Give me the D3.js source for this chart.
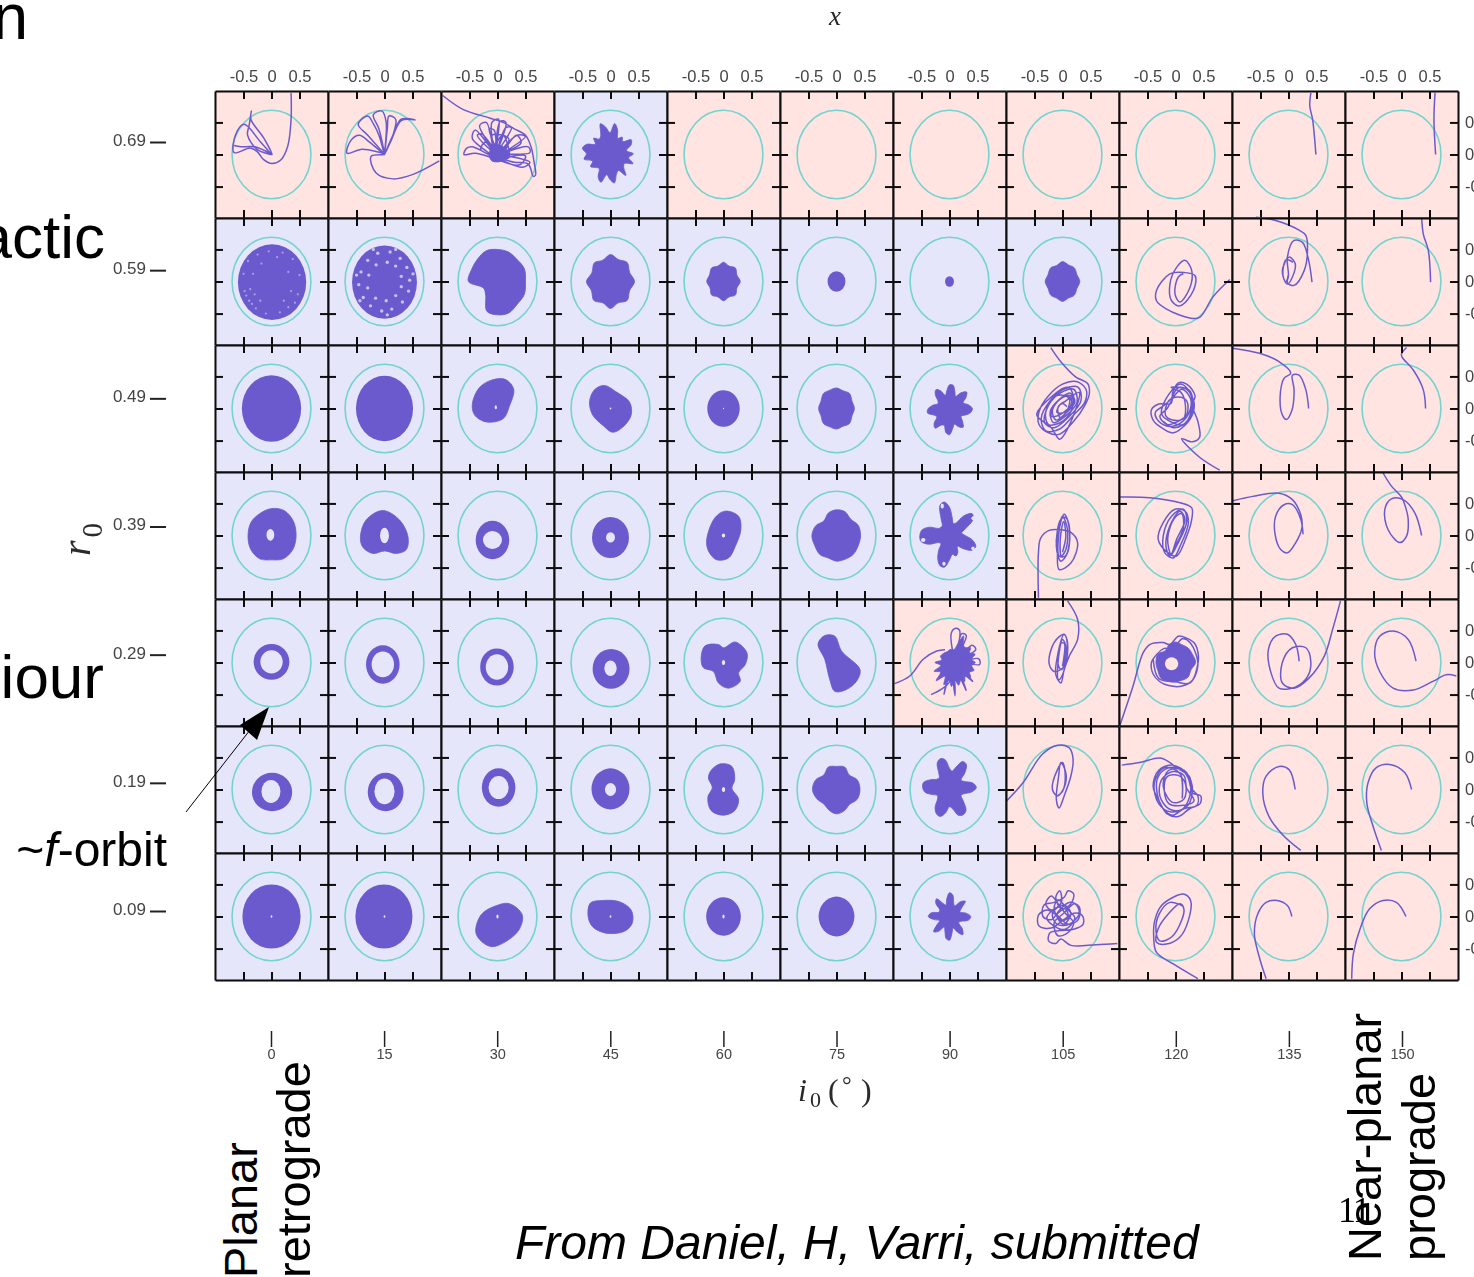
<!DOCTYPE html>
<html>
<head>
<meta charset="utf-8">
<script src="https://cdn.jsdelivr.net/npm/d3@7"></script>
<style>
body { margin: 0; background: #fff; overflow: hidden; }
svg { display: block; font-family: "Liberation Sans", sans-serif; }
.slide { fill: #000; font-size: 47px; }
.math { font-family: "Liberation Serif", serif; fill: #2a2a2a; }
</style>
</head>
<body>
<svg id="chart" width="1474" height="1277"></svg>
<script>
// initial inclination (deg) and radius, top row first
var inclinations = [0, 15, 30, 45, 60, 75, 90, 105, 120, 135, 150];
var radii = [0.69, 0.59, 0.49, 0.39, 0.29, 0.19, 0.09];
var cellTicks = [-0.5, 0, 0.5];
var boundary = [0.705, 0.69];

// 1 = lost orbit (pink panel), 0 = confined (lavender panel)
var lost069 = [1, 1, 1, 0, 1, 1, 1, 1, 1, 1, 1];
var lost059 = [0, 0, 0, 0, 0, 0, 0, 0, 1, 1, 1];
var lost049 = [0, 0, 0, 0, 0, 0, 0, 1, 1, 1, 1];
var lost039 = [0, 0, 0, 0, 0, 0, 0, 1, 1, 1, 1];
var lost029 = [0, 0, 0, 0, 0, 0, 1, 1, 1, 1, 1];
var lost019 = [0, 0, 0, 0, 0, 0, 0, 1, 1, 1, 1];
var lost009 = [0, 0, 0, 0, 0, 0, 0, 1, 1, 1, 1];

// filled orbit regions: e = ellipse [x, y, rx, ry], c + r = radii read round a centre, pts = outline
var blobs069 = [
  {col: 2, pts: [[-.15, .02], [-.05, .15], [.1, .12], [.22, -.02], [.1, -.1], [-.1, -.1]]},
  {col: 3, c: [-0.01, 0.01], r: [.42, .3, .4, .44, .3, .34, .28, .4, .48, .33, .42, .5, .33, .3, .38, .3, .44, .5, .42, .47, .33, .4, .33, .3, .42, .47, .33, .4, .46, .34, .3, .44, .32, .3, .44, .34]}
];
var blobs059 = [
  {col: 0, e: [0.01, -0.01, 0.61, 0.59]},
  {col: 1, e: [0, -0.01, 0.58, 0.57]},
  {col: 2, c: [0, 0], r: [.5, .52, .49, .5, .5, .52, .5, .5, .52, .27, .3, .5, .52, .53, .5, .52]},
  {col: 3, c: [0, 0], r: [.43, .37, .42, .37, .42, .36, .41, .36, .43, .37, .42, .36, .42, .36, .42, .37]},
  {col: 4, c: [0, 0], r: [.3, .26, .3, .26, .3, .26, .3, .27, .3, .26, .3, .26, .3, .26, .3, .26]},
  {col: 5, e: [0, 0, 0.16, 0.16]},
  {col: 6, e: [0, 0, 0.08, 0.08]},
  {col: 7, c: [0, 0], r: [.31, .28, .3, .28, .31, .27, .3, .28, .31, .28, .3, .28, .31, .28, .3, .28]}
];
var blobs049 = [
  {col: 0, e: [0, 0, 0.53, 0.52]},
  {col: 1, e: [0, 0, 0.51, 0.51]},
  {col: 2, pts: [[-.45, .07], [-.32, .33], [-.08, .45], [.15, .45], [.29, .3], [.21, .03], [.1, -.16], [-.2, -.21], [-.41, -.1]], holes: [[-.03, .02, .02, .03]]},
  {col: 3, pts: [[-.375, .1], [-.29, .29], [-.11, .36], [.1, .26], [.34, .1], [.37, -.1], [.22, -.29], [.04, -.37], [-.14, -.26], [-.32, -.1]], holes: [[0, 0, .015, .015]]},
  {col: 4, e: [0, 0, 0.29, 0.285], holes: [[0, 0, .01, .01]]},
  {col: 5, c: [0, 0], r: [.32, .3, .33, .3, .32, .31, .33, .3, .32, .3, .33, .31, .32, .3, .33, .3]},
  {col: 6, c: [0, 0], r: [.41, .34, .26, .34, .4, .32, .22, .28, .37, .37, .28, .22, .32, .38, .33, .24, .22, .3, .38, .4, .3, .26, .36, .4, .3, .28, .38, .41, .32, .26, .33, .38, .3, .24, .3, .38]}
];
var blobs039 = [
  {col: 0, c: [0, 0], r: [.44, .45, .45, .42, .4, .42, .42, .43, .42, .38, .42, .44], holes: [[-.02, .01, .07, .09]]},
  {col: 1, pts: [[-.43, -.02], [-.33, .24], [-.03, .39], [.27, .24], [.42, -.02], [.39, -.22], [.21, -.28], [0, -.24], [-.21, -.28], [-.39, -.18]], holes: [[0, 0, .08, .12]]},
  {col: 2, e: [-0.09, -0.07, 0.3, 0.3], holes: [[-.09, -.07, .17, .14]]},
  {col: 3, e: [0, -0.03, 0.33, 0.32], holes: [[0, -.03, .08, .08]]},
  {col: 4, pts: [[-.3, -.06], [-.15, .28], [.03, .38], [.27, .3], [.31, .09], [.21, -.17], [.09, -.35], [-.12, -.38], [-.27, -.24]], holes: [[0, 0, .03, .03]]},
  {col: 5, c: [0, 0], r: [.43, .42, .36, .4, .4, .38, .32, .4, .44, .42, .42, .38, .4, .4, .42, .42]},
  {col: 6, c: [0, 0], r: [.28, .22, .3, .48, .53, .4, .22, .2, .28, .44, .53, .5, .3, .2, .2, .22, .38, .5, .53, .52, .4, .22, .2, .3, .42, .5, .5, .38, .3, .34, .3, .22, .32, .46, .5, .42],
    holes: [[-.13, .46, .03, .04], [.43, .27, .04, .03], [-.47, -.07, .04, .03], [.42, -.2, .03, .03], [-.1, -.44, .03, .03]]}
];
var blobs029 = [
  {col: 0, e: [0, 0.01, 0.32, 0.28], holes: [[0, .01, .2, .18]]},
  {col: 1, e: [-0.03, -0.03, 0.3, 0.3], holes: [[-.03, -.03, .2, .2]]},
  {col: 2, e: [-0.01, -0.07, 0.3, 0.29], holes: [[-.01, -.07, .2, .2]]},
  {col: 3, e: [0.01, -0.1, 0.33, 0.31], holes: [[0, -.09, .11, .12]]},
  {col: 4, pts: [[-.4, .07], [-.33, .26], [-.09, .28], [0, .23], [.21, .32], [.42, .15], [.39, -.03], [.27, -.16], [.3, -.29], [.09, -.4], [-.09, -.32], [-.18, -.14], [-.36, -.08]], holes: [[0, 0, .03, .04]]},
  {col: 5, pts: [[-.33, .29], [-.21, .42], [-.03, .41], [.09, .18], [.42, -.11], [.36, -.29], [.18, -.42], [-.03, -.45], [-.12, -.27], [-.21, .05]]},
  {col: 6, c: [0.1, 0], r: [.36, .3, .38, .3, .36, .3, .3, .44, .3, .22, .2, .22, .22, .22, .24, .26, .28, .24, .36, .26, .4, .3, .44, .28, .4, .3, .38, .28, .36, .3, .34, .28, .36, .3, .36, .3]},
  {col: 8, c: [0, 0], r: [.36, .33, .32, .3, .32, .3, .26, .34, .35, .34, .36, .32, .3, .3, .32, .3]  , holes: [[-.07, -.02, .12, .1]]}
];
var blobs019 = [
  {col: 0, e: [0.01, -0.04, 0.36, 0.3], holes: [[-.01, -.03, .17, .18]]},
  {col: 1, e: [0.02, -0.04, 0.32, 0.3], holes: [[0, -.03, .18, .2]]},
  {col: 2, e: [0.02, 0.03, 0.3, 0.3], holes: [[.02, .03, .18, .18]]},
  {col: 3, e: [0, 0.01, 0.34, 0.32], holes: [[0, 0, .1, .1]]},
  {col: 4, pts: [[-.22, .3], [-.05, .4], [.15, .36], [.2, .15], [.15, .02], [.27, -.15], [.2, -.33], [0, -.4], [-.22, -.33], [-.28, -.12], [-.2, .03], [-.27, .18]], holes: [[0, 0, .03, .04]]},
  {col: 5, c: [0, 0], r: [.42, .4, .32, .38, .36, .38, .32, .4, .43, .38, .32, .35, .38, .36, .33, .4]},
  {col: 6, c: [0, 0.03], r: [.48, .42, .28, .24, .36, .47, .47, .34, .26, .3, .44, .48, .44, .3, .24, .26, .36, .47, .48, .44, .32, .25, .28, .4, .47, .48, .4, .3, .34, .46, .49, .46, .32, .24, .28, .4]}
];
var blobs009 = [
  {col: 0, e: [0, 0, 0.52, 0.5], holes: [[0, 0, .015, .02]]},
  {col: 1, e: [-0.01, 0, 0.51, 0.5], holes: [[0, 0, .015, .02]]},
  {col: 2, pts: [[-.39, -.23], [-.29, .03], [-.05, .16], [.21, .2], [.44, .03], [.39, -.2], [.15, -.39], [-.11, -.47], [-.32, -.36]], holes: [[0, 0, .02, .03]]},
  {col: 3, pts: [[-.4, 0], [-.36, .21], [-.14, .25], [.16, .23], [.37, .1], [.39, -.1], [.25, -.23], [-.08, -.26], [-.32, -.16]], holes: [[0, 0, .015, .02]]},
  {col: 4, e: [0, 0, 0.31, 0.3], holes: [[0, 0, .02, .03]]},
  {col: 5, e: [0, 0, 0.32, 0.31]},
  {col: 6, c: [0, 0], r: [.38, .3, .2, .24, .37, .3, .19, .22, .34, .37, .28, .19, .24, .36, .32, .2, .2, .33, .38, .28, .19, .26, .37, .3, .19, .24, .35, .37, .26, .19, .28, .37, .3, .19, .22, .34]}
];

// light gaps in the two dense panels of the 0.59 row
var gaps059col0 = [[.5, .1], [.47, -.2], [.42, -.33], [.3, -.4], [.15, -.48], [-.1, -.5], [-.28, -.42], [-.4, -.3], [-.48, -.15], [-.5, .12], [-.42, .32], [-.25, .42], [-.05, .47], [.2, .45], [.38, .35], [.3, .15], [-.3, -.2], [-.35, -.35], [-.2, -.3], [.22, -.3], [.1, .38], [-.18, .28], [-.33, .12], [.35, -.15], [-.45, -.22], [-.38, -.12]];
var gaps059col1 = [[.45, .02], [.4, .22], [.28, .36], [.1, .46], [-.12, .44], [-.3, .33], [-.42, .15], [-.46, -.05], [-.38, -.25], [-.25, -.38], [-.05, -.46], [.13, -.43], [.32, -.32], [.43, -.15], [.3, .08], [.2, .24], [.05, .3], [-.15, .26], [-.28, .1], [-.3, -.1], [-.16, -.26], [.03, -.3], [.2, -.22], [.3, -.08], [.51, .12], [.2, .5], [-.2, .5], [-.5, .1], [-.44, -.3], [.05, -.52]];

// orbit tracks, in panel x / y units
var tracks069 = [
  {col: 0, pts: [[.35, .96], [.35, .55], [.29, .13], [.16, -.09], [.01, -.14], [-.14, -.08], [-.26, .05], [-.38, .1], [-.67, .03], [-.64, .31], [-.49, .47], [-.2, .2], [.01, 0], [-.14, .26], [-.37, .55], [-.36, .68], [-.4, .45], [-.43, .31], [-.26, .08], [.01, 0], [-.3, .12], [-.55, .12], [-.67, .14]]},
  {col: 1, pts: [[.98, -.1], [.51, -.31], [.15, -.38], [-.15, -.29], [-.24, -.03], [0, 0], [-.4, .08], [-.67, .02], [-.6, .22], [-.45, .3], [-.25, .18], [0, 0], [-.3, .3], [-.47, .47], [-.3, .6], [-.2, .48], [-.1, .3], [0, 0], [-.1, .4], [-.2, .62], [-.05, .68], [.03, .5], [0, 0], [.05, .4], [.08, .6], [.2, .55], [.15, .3], [0, 0], [.15, .3], [.3, .55], [.55, .54], [.3, .53], [.12, .22], [0, 0]]},
  {col: 2, pts: [[-.98, .92], [-.61, .7], [-.14, .57], [.1, .5], [.3, .4], [.5, .3], [.6, .12], [.65, -.1], [.68, -.32], [.64, -.34], [.55, -.15], [.3, -.12], [0, -.05], [.45, -.2], [.58, -.12], [.35, -.05], [0, 0], [.58, .03], [.55, .12], [.2, .05], [-.02, -.05], [.5, .28], [.35, .3], [0, .02], [.25, .42], [.15, .42], [-.02, .02], [.15, .5], [.05, .52], [-.05, 0], [.02, .55], [-.1, .5], [-.05, -.05], [-.2, .5], [-.32, .45], [-.05, .02], [-.4, .38], [-.45, .25], [-.08, -.03], [-.45, .12], [-.55, .1], [-.6, 0], [-.4, .02], [-.05, -.06], [.05, -.08], [-.2, .2], [-.3, .08], [.2, -.05], [.1, .3], [0, .2], [.02, -.08], [.2, .25], [-.1, .3], [.05, -.05], [-.28, .32], [-.36, .3], [0, 0], [-.15, .4], [-.06, .38], [.02, 0], [.34, .3], [.42, .18], [0, -.04], [.5, -.02], [.4, -.16], [0, -.08]]},
  {col: 9, pts: [[.4, .96], [.38, .76], [.43, .55], [.49, 0]]},
  {col: 10, pts: [[.6, .96], [.58, .55], [.61, 0]]}
];
var tracks059 = [
  {col: 8, pts: [[.97, .03], [.67, -.24], [.43, -.56], [.26, -.57], [-.16, -.43], [-.34, -.3], [-.34, -.14], [-.1, .12], [.15, .14], [.35, .09], [.32, -.14], [.08, -.38], [-.07, -.3], [-.1, -.04], [.02, .22], [.17, .33], [.29, .17], [.26, -.09], [.08, -.32], [-.01, -.19], [.05, .07], [.14, .12]]},
  {col: 9, pts: [[.42, -.01], [.36, .33], [.25, .61], [.1, .64], [-.02, .38], [.0, .1], [-.02, -.02], [.1, -.06], [.28, .17], [.34, .48], [.31, .72], [.19, .8], [-.23, .95], [-.58, 1]]},
  {col: 9, pts: [[.0, .1], [-.05, -.01], [-.11, .17], [.01, .38], [.12, .28], [.07, .07], [-.02, -.04], [-.1, .1], [-.04, .34], [.08, .3]]},
  {col: 10, pts: [[.36, 1], [.39, .74], [.48, .48], [.52, -.01]]}
];
var tracks049 = [
  {col: 7, pts: [[-.21, .95], [-.03, .73], [.24, .49], [.45, .39], [.48, .23], [.4, .05], [.2, -.2], [-.05, -.4], [-.25, -.38], [-.42, -.25], [-.42, -.05], [-.25, .2], [0, .38], [.25, .42], [.42, .3], [.4, .1], [.2, -.1], [-.05, -.32], [-.3, -.35], [-.38, -.15], [-.22, .12], [.02, .3], [.28, .33], [.33, .12], [.1, -.14], [-.15, -.3], [-.32, -.22], [-.25, .05], [-.02, .25], [.2, .3], [.26, .1], [.05, -.12], [-.16, -.22], [-.22, -.05], [-.06, .14], [.14, .24], [.22, .1], [.05, -.08], [-.12, -.18], [-.18, -.02], [-.02, .16], [.16, .2], [.14, .03], [-.04, -.14], [-.08, .02], [.06, .12], [.3, .25], [.1, -.3], [-.05, -.48], [-.2, -.3], [-.46, -.1], [-.3, .1], [.1, .33], [.2, .12], [-.05, -.1], [-.2, -.12], [-.12, .08], [.1, .2], [.18, .02], [0, -.2], [-.25, -.25], [-.3, -.05], [-.1, .2], [.12, .16], [.06, -.05], [-.1, -.06], [-.02, .08], [.08, .03]]},
  {col: 8, pts: [[.79, -.96], [.43, -.76], [.11, -.47], [.3, -.52], [.43, -.45], [.4, -.2], [.3, .05], [.35, .2], [.2, .38], [.05, .4], [-.05, .25], [-.08, .08], [-.3, .07], [-.43, -.02], [-.4, -.18], [-.25, -.3], [-.05, -.38], [.12, -.3], [.3, -.1], [.33, .1], [.2, .3], [.04, .32], [-.08, .15], [-.2, .05], [-.36, -.06], [-.3, -.2], [-.1, -.28], [.1, -.22], [.25, -.05], [.27, .15], [.12, .3], [-.02, .2], [-.15, 0], [-.28, -.12], [-.15, -.25], [.05, -.2], [.2, -.1], [.2, .12], [.05, .18], [-.12, .12], [-.18, -.1], [-.05, -.18], [.14, -.16], [.18, .02], [.1, .25], [-.08, .33], [.25, .28], [.3, -.02], [.15, -.25], [-.1, -.2], [-.25, -.08], [-.12, .22], [.1, .38], [.28, .2], [.22, -.18], [-.02, -.3], [-.22, -.2]]},
  {col: 9, pts: [[-1, .94], [-.52, .86], [-.17, .73], [.04, .55], [-.08, .47], [-.15, .18], [-.11, -.1], [-.04, -.17], [.06, -.03], [.1, .29], [.07, .52], [.19, .52], [.31, .29], [.36, 0]]},
  {col: 10, pts: [[.09, .95], [0, .85], [.01, .8], [.21, .6], [.39, .29], [.43, 0]]}
];
var tracks039 = [
  {col: 7, pts: [[-.43, -.97], [-.43, -.27], [-.39, -.04], [-.24, .08], [-.03, .09], [.15, .05], [.27, -.11], [.15, -.43], [-.06, -.53], [-.09, -.27], [-.06, .09], [.03, .33], [.12, .15], [.09, -.27], [-.03, -.4], [-.11, -.17], [-.03, .25], [.06, .28], [.13, -.01], [.05, -.32], [-.06, -.32], [-.07, -.01], [0, .3], [.09, .09], [.06, -.22], [-.02, -.32], [-.04, -.06], [.02, .22], [.06, -.01], [.0, -.26]]},
  {col: 8, pts: [[-.99, .6], [-.46, .59], [.08, .51], [.29, .43], [.29, .25], [.2, -.01], [.02, -.32], [-.13, -.27], [-.31, -.06], [-.22, .2], [-.01, .41], [.17, .38], [.23, .2], [.08, -.17], [-.04, -.35], [-.19, -.27], [-.22, -.01], [-.07, .3], [.14, .41], [.2, .22], [.05, -.11], [-.1, -.32], [-.17, -.17], [-.1, .15], [.08, .38], [.17, .25], [.02, -.06], [-.08, -.29], [-.14, -.05], [-.02, .27], [.11, .34], [.14, .12], [-.03, -.2]]},
  {col: 9, pts: [[.26, .02], [.22, .25], [.07, .48], [-.08, .48], [-.23, .3], [-.24, .02], [-.14, -.22], [-.02, -.27], [.13, -.11], [.24, .12], [.22, .32], [.07, .56], [-.17, .66], [-.64, .61], [-1, .54]]},
  {col: 10, pts: [[-.34, .99], [-.18, .77], [0, .6], [.07, .45], [.12, .25], [.09, -.01], [-.03, -.11], [-.24, .09], [-.3, .4], [-.18, .57], [.03, .56], [.24, .35], [.36, 0]]}
];
var tracks029 = [
  {col: 6, pts: [[-.98, -.33], [-.71, -.21], [-.47, .05], [-.23, .18], [-.08, .2]]},
  {col: 6, pts: [[-.33, -.5], [-.15, -.42], [0, -.3], [.05, 0], [-.1, -.5], [.02, -.1], [.1, -.52], [.1, 0], [.3, -.44], [.1, 0], [.42, -.3], [.1, 0], [.54, -.03], [.52, .06], [.1, 0], [.47, .2], [.4, .27], [.1, 0], [.3, .42], [.22, .45], [.1, 0], [.18, .5], [.1, .53], [.03, .45], [.1, 0]]},
  {col: 7, pts: [[.09, .96], [.27, .67], [.27, .36], [.12, .1], [.03, -.11], [-.03, -.32], [-.12, -.19], [-.09, .1], [.03, .44], [.09, .31], [.03, -.06], [-.15, -.14], [-.24, -.01], [-.15, .31], [.03, .44], [.09, .2], [0, -.19], [-.07, -.27], [-.08, 0], [0, .36], [.06, .25], [-.01, -.11], [-.07, -.06], [-.03, .3], [.03, .3], [0, -.06]]},
  {col: 8, pts: [[-.99, -.97], [-.76, -.37], [-.58, .15], [-.46, .28], [-.22, .31], [-.1, .28], [.05, .41], [.2, .38], [.34, .3], [.41, .1], [.38, -.1], [.3, -.28], [.1, -.37], [-.12, -.36], [-.28, -.3], [-.4, -.18], [-.43, 0], [-.34, .12], [-.2, .22], [-.05, .2], [.12, .37], [.27, .3], [.4, -.05], [.25, -.32], [0, -.3], [-.3, -.25], [-.4, .06]]},
  {col: 9, pts: [[.93, .96], [.79, .52], [.64, .1], [.37, -.24], [.1, -.4], [-.11, -.32], [-.11, 0], [.07, .23], [.31, .23], [.4, 0], [.34, -.22], [.13, -.38], [-.17, -.4], [-.32, -.14], [-.36, .2], [-.23, .41], [-.02, .44], [.13, .28], [.19, .02]]},
  {col: 10, pts: [[.98, -.21], [.8, -.19], [.57, -.29], [.21, -.43], [-.15, -.4], [-.39, -.14], [-.48, .15], [-.39, .41], [-.15, .49], [.12, .36], [.26, .02]]}
];
var tracks019 = [
  {col: 7, pts: [[-1, -.18], [-.71, .1], [-.36, .55], [-.09, .69], [.12, .65], [.19, .47], [.15, .21], [.03, -.1], [-.06, -.29], [-.11, -.16], [-.07, .2], [-.03, .42], [.06, .26], [.03, .03], [-.09, -.1], [-.18, 0], [-.09, .31], [0, .42], [.05, .2], [0, -.03], [-.09, -.1]]},
  {col: 8, pts: [[-.96, .38], [-.64, .42], [-.28, .49], [-.1, .42], [.02, .34], [.25, .2], [.3, -.05], [.45, -.1], [.44, -.22], [.25, -.3], [.05, -.42], [-.15, -.38], [-.28, -.2], [-.4, .05], [-.3, .3], [-.05, .38], [.2, .25], [.28, .02], [.4, -.1], [.38, -.25], [.15, -.3], [-.05, -.4], [-.22, -.3], [-.33, -.05], [-.32, .18], [-.15, .33], [.1, .32], [.26, .1], [.25, -.12], [.1, -.32], [-.12, -.3], [-.28, -.1], [-.25, .15], [-.05, .28], [.15, .22], [.2, .02], [.33, -.18], [.1, -.25], [-.12, -.22], [-.2, -.02], [-.15, .2], [.05, .22], [.18, .08], [.15, -.15], [-.05, -.2], [-.22, .05], [-.12, .3], [.15, .3], [.3, .05], [.22, -.25], [-.08, -.35], [-.3, -.22], [-.38, .1], [-.2, .34], [.08, .25], [.12, -.14]]},
  {col: 9, pts: [[.22, -.95], [-.11, -.7], [-.35, -.42], [-.46, -.05], [-.4, .21], [-.17, .36], [.01, .31], [.12, 0]]},
  {col: 10, pts: [[-.36, -.95], [-.51, -.57], [-.62, -.21], [-.6, .1], [-.45, .34], [-.21, .39], [.06, .26], [.18, 0]]}
];
var tracks009 = [
  {col: 7, pts: [[.98, -.42], [.6, -.44], [.15, -.45], [-.03, -.35], [-.12, -.42], [-.25, -.38], [-.22, -.25], [-.05, -.22], [.2, -.2], [.37, -.12], [.35, .02], [.2, .05], [.02, -.05], [-.2, -.18], [-.42, -.15], [-.43, .02], [-.28, .1], [-.1, .02], [.1, -.12], [.28, -.05], [.3, .15], [.12, .22], [-.05, .1], [-.2, -.05], [-.35, 0], [-.33, .18], [-.15, .22], [.03, .3], [.1, .4], [.2, .35], [.15, .2], [-.02, .12], [-.12, .3], [-.05, .4], [-.02, .22], [-.2, .1], [-.3, .2], [-.2, .32], [-.08, .2], [.05, .05], [.2, -.1], [.1, -.25], [-.08, -.3], [-.15, -.1], [.02, .05], [.22, .2], [.3, .05], [.12, -.12], [-.1, -.12], [-.18, .05], [.02, .18], [.15, .05], [.02, -.12], [-.1, .02], [.05, .12], [.1, -.02], [-.03, -.06], [-.15, .12], [-.08, .26], [.1, .1], [.22, -.02], [.05, -.2], [-.15, -.15], [-.28, -.02], [-.12, .14]]},
  {col: 8, pts: [[.4, -.97], [-.04, -.74], [-.34, -.56], [-.39, -.32], [-.37, -.06], [-.25, .17], [-.04, .3], [.14, .35], [.27, .25], [.23, -.06], [.08, -.32], [-.16, -.43], [-.34, -.4], [-.31, -.19], [-.13, .04], [.08, .2], [.15, .12], [.11, -.06], [-.07, -.32], [-.28, -.38], [-.35, -.22], [-.29, .04], [-.1, .22], [.14, .16]]},
  {col: 9, pts: [[-.4, -.97], [-.52, -.64], [-.61, -.27], [-.55, .04], [-.4, .22], [-.2, .25], [-.02, .17], [.06, 0]]},
  {col: 10, pts: [[-.89, -.97], [-.86, -.58], [-.74, -.19], [-.57, .12], [-.33, .25], [-.09, .22], [.08, 0]]}
];

var lostRows = [lost069, lost059, lost049, lost039, lost029, lost019, lost009];
var blobRows = [blobs069, blobs059, blobs049, blobs039, blobs029, blobs019, blobs009];
var trackRows = [tracks069, tracks059, tracks049, tracks039, tracks029, tracks019, tracks009];

var svg = d3.select("#chart");
svg.append("defs").append("filter").attr("id", "soft")
  .append("feGaussianBlur").attr("stdDeviation", 0.5);

var plot = svg.append("g").attr("filter", "url(#soft)");

var colBand = d3.scaleBand().domain(inclinations).range([215, 1458]);
var rowBand = d3.scaleBand().domain(radii).range([91, 980]);
var w = colBand.bandwidth(), h = rowBand.bandwidth();
var x = d3.scaleLinear().domain([-1.01, 1.01]).range([0, w]);
var y = d3.scaleLinear().domain([-0.99, 0.99]).range([h, 0]);

var track = d3.line().x(function(d) { return x(d[0]); }).y(function(d) { return y(d[1]); })
  .curve(d3.curveCatmullRom.alpha(0.5));
var closedShape = d3.line().x(function(d) { return x(d[0]); }).y(function(d) { return y(d[1]); })
  .curve(d3.curveCatmullRomClosed.alpha(0.5));

function blobOutline(b) {
  if (b.pts) return b.pts;
  return b.r.map(function(r, i) {
    var a = 2 * Math.PI * i / b.r.length;
    return [b.c[0] + r * Math.cos(a), b.c[1] + r * Math.sin(a)];
  });
}

function addEllipse(g, e, fill) {
  return g.append("ellipse")
    .attr("cx", x(e[0])).attr("cy", y(e[1]))
    .attr("rx", x(e[2]) - x(0)).attr("ry", y(0) - y(e[3]))
    .attr("fill", fill);
}

radii.forEach(function(r0, row) {
  inclinations.forEach(function(inc, col) {
    var cell = plot.append("g")
      .attr("transform", "translate(" + colBand(inc) + "," + rowBand(r0) + ")");
    var bg = lostRows[row][col] ? "#ffe4e1" : "#e6e6fa";

    cell.append("rect").attr("width", w).attr("height", h).attr("fill", bg);

    cell.append("ellipse")
      .attr("cx", x(0)).attr("cy", y(0))
      .attr("rx", x(boundary[0]) - x(0)).attr("ry", y(0) - y(boundary[1]))
      .attr("fill", "none").attr("stroke", "#72d4cf").attr("stroke-width", 1.6);

    blobRows[row].filter(function(b) { return b.col == col; }).forEach(function(b) {
      if (b.e) addEllipse(cell, b.e, "#6a5acd");
      else cell.append("path").attr("d", closedShape(blobOutline(b)))
        .attr("fill", "#6a5acd").attr("stroke", "#6a5acd").attr("stroke-width", 0.8);
      (b.holes || []).forEach(function(e) { addEllipse(cell, e, bg); });
    });

    if (row == 1 && col == 0) gaps059col0.forEach(function(p) { addEllipse(cell, [p[0], p[1], 0.02, 0.018], "#a9a0e4"); });
    if (row == 1 && col == 1) gaps059col1.forEach(function(p) { addEllipse(cell, [p[0], p[1], 0.03, 0.026], "#c8c3ee"); });

    trackRows[row].filter(function(t) { return t.col == col; }).forEach(function(t) {
      cell.append("path").attr("d", track(t.pts))
        .attr("fill", "none").attr("stroke", "#6a5acd")
        .attr("stroke-width", 1.5);
    });

    // every panel side carries inward ticks, the domain lines make the frame
    var sides = [
      {axis: d3.axisTop(x), at: [0, 0], labelled: row == 0},
      {axis: d3.axisBottom(x), at: [0, h], labelled: false},
      {axis: d3.axisLeft(y), at: [0, 0], labelled: false},
      {axis: d3.axisRight(y), at: [w, 0], labelled: col == inclinations.length - 1}
    ];
    sides.forEach(function(s) {
      var g = cell.append("g")
        .attr("transform", "translate(" + s.at[0] + "," + s.at[1] + ")")
        .call(s.axis.tickValues(cellTicks).tickSizeInner(-8).tickSizeOuter(0)
          .tickPadding(10).tickFormat(function(d) { return String(d); }));
      g.selectAll("path, line").attr("stroke", "#0a0a0a").attr("stroke-width", 2);
      g.selectAll("text").attr("font-family", "Liberation Sans").attr("font-size", 16.5).attr("fill", "#444");
      if (!s.labelled) g.selectAll("text").remove();
      else if (row == 0 && s.at[0] == 0) g.selectAll("text").attr("y", -9);
      else g.selectAll("text").attr("x", 7).attr("text-anchor", "start");
    });
  });
});

// outer axes
var iScale = d3.scaleLinear().domain([0, 150]).range([271, 1402]);
var rScale = d3.scaleLinear().domain([0.09, 0.69]).range([911, 142]);

var iAxis = plot.append("g").attr("transform", "translate(0,1031)")
  .call(d3.axisBottom(iScale).tickValues(inclinations).tickSize(16).tickPadding(2));
iAxis.select(".domain").remove();
iAxis.selectAll("line").attr("stroke", "#222").attr("stroke-width", 1.5);
iAxis.selectAll("text").attr("font-family", "Liberation Sans").attr("font-size", 14.5).attr("fill", "#444");

var rAxis = plot.append("g").attr("transform", "translate(166,0)")
  .call(d3.axisLeft(rScale).tickValues(radii).tickSize(16).tickPadding(4).tickFormat(d3.format(".2f")));
rAxis.select(".domain").remove();
rAxis.selectAll("line").attr("stroke", "#222").attr("stroke-width", 2);
rAxis.selectAll("text").attr("font-family", "Liberation Sans").attr("font-size", 17).attr("fill", "#444").attr("y", -2);

// axis titles
plot.append("text").attr("class", "math").attr("x", 835).attr("y", 25)
  .attr("text-anchor", "middle").attr("font-size", 27).attr("font-style", "italic").text("x");

var rTitle = plot.append("text").attr("class", "math")
  .attr("transform", "translate(90,556) rotate(-90)").attr("font-size", 40);
rTitle.append("tspan").attr("font-style", "italic").text("r");
rTitle.append("tspan").attr("font-size", 29).attr("dy", 12).attr("dx", 3).text("0");

var iTitle = plot.append("text").attr("class", "math").attr("y", 1101).attr("font-size", 32);
iTitle.append("tspan").attr("x", 798).attr("font-style", "italic").text("i");
iTitle.append("tspan").attr("x", 810).attr("font-size", 22).attr("dy", 6).text("0");
iTitle.append("tspan").attr("x", 828).attr("dy", -6).text("(");
iTitle.append("tspan").attr("x", 842).attr("font-size", 24).attr("dy", -8).text("°");
iTitle.append("tspan").attr("x", 861).attr("dy", 8).text(")");

// slide text laid over the figure
var slide = svg.append("g");
slide.append("text").attr("class", "slide").attr("x", 28).attr("y", 39).attr("text-anchor", "end").style("font-size", "64px").text("n");
slide.append("text").attr("class", "slide").attr("x", 105).attr("y", 258).attr("text-anchor", "end").style("font-size", "62px").text("actic");
slide.append("text").attr("class", "slide").attr("x", 104).attr("y", 698).attr("text-anchor", "end").style("font-size", "62px").text("iour");

var orbitLabel = slide.append("text").attr("class", "slide").attr("x", 167).attr("y", 866).attr("text-anchor", "end").style("font-size", "48px");
orbitLabel.append("tspan").text("~");
orbitLabel.append("tspan").attr("font-style", "italic").text("f");
orbitLabel.append("tspan").text("-orbit");

slide.append("line").attr("x1", 186).attr("y1", 812).attr("x2", 250).attr("y2", 730).attr("stroke", "#000").attr("stroke-width", 1);
slide.append("polygon").attr("points", "269,707 240,725 257,740").attr("fill", "#000");

[["Planar", 257, 1278], ["retrograde", 310, 1278], ["Near-planar", 1381, 1261], ["prograde", 1435, 1261]].forEach(function(t) {
  slide.append("text").attr("class", "slide")
    .attr("transform", "translate(" + t[1] + "," + t[2] + ") rotate(-90)").text(t[0]);
});

slide.append("text").attr("class", "slide").attr("x", 515).attr("y", 1259).attr("font-style", "italic").style("font-size", "48px").text("From Daniel, H, Varri, submitted");
slide.append("text").attr("x", 1338).attr("y", 1222).attr("font-family", "Liberation Serif").attr("font-size", 36).attr("letter-spacing", -2).text("11");
</script>
</body>
</html>
